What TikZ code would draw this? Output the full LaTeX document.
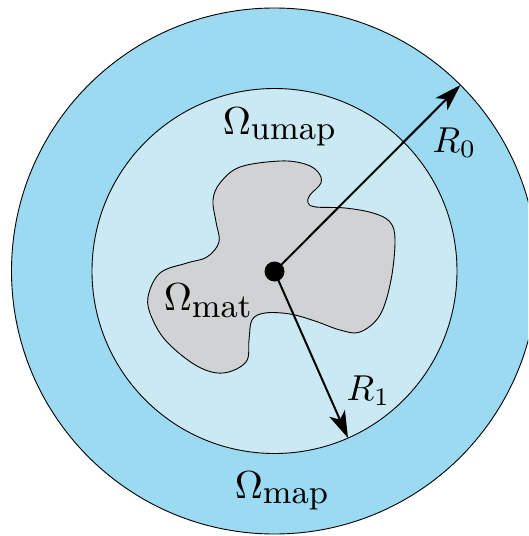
\documentclass[tikz,border=0pt]{standalone}
\usetikzlibrary{arrows.meta}
\definecolor{ringblue}{RGB}{155,218,241}
\definecolor{innerblue}{RGB}{203,233,242}
\definecolor{blobgray}{RGB}{209,210,212}
\newcommand{\subtxt}[1]{\mbox{\fontsize{8.6}{9}\selectfont #1}}
\begin{document}
\begin{tikzpicture}[x=1pt,y=-1pt,
  region/.style={draw=black,line width=0.9pt},
  radarrow/.style={line width=2pt,-{Stealth[length=27pt,width=17pt,inset=7pt]}},
  lbl/.style={anchor=base west,inner sep=0pt,scale=3.9},
  rlbl/.style={anchor=base west,inner sep=0pt,scale=3.6}]
\useasboundingbox (0,0) rectangle (528,536);
\clip (0,0) rectangle (528,536);
\coordinate (O) at (274.5,271);
\draw[region,fill=ringblue] (O) circle[radius=263];
\draw[region,fill=innerblue] (O) circle[radius=182.5];
\draw[region,fill=blobgray] plot[smooth cycle,tension=0.6] coordinates {
 (213,200) (220,183) (240,167) (280,161) (305,164) (318,172) (321,183)
 (310,195) (308,203) (316,207) (345,208) (373,213) (390,222) (395,240)
 (391,280) (380,315) (360,332) (340,330) (315,321) (290,314) (265,313)
 (252,320) (249,340) (246,362) (223,373) (197,366) (167,342) (152,318)
 (148,297) (160,273) (187,263) (207,257) (219,242) (216,222)};
\node[circle,fill=black,minimum size=20pt,inner sep=0pt] (c) at (274.5,271.5) {};
\coordinate (t0) at (460.5,85);
\coordinate (t1) at (348,438);
\draw[radarrow] (c.center) -- (t0);
\draw[radarrow] (c.center) -- (t1);
\node[lbl] (lumap) at (222,134) {$\Omega_{\subtxt{umap}}$};
\node[lbl] (lmap) at (234,498) {$\Omega_{\subtxt{map}}$};
\node[lbl] (lmat) at (163,310) {$\Omega_{\subtxt{mat}}$};
\node[rlbl] (lr0) at (432,152) {$R_0$};
\node[rlbl] (lr1) at (346,400.5) {$R_1$};
\end{tikzpicture}
\end{document}
